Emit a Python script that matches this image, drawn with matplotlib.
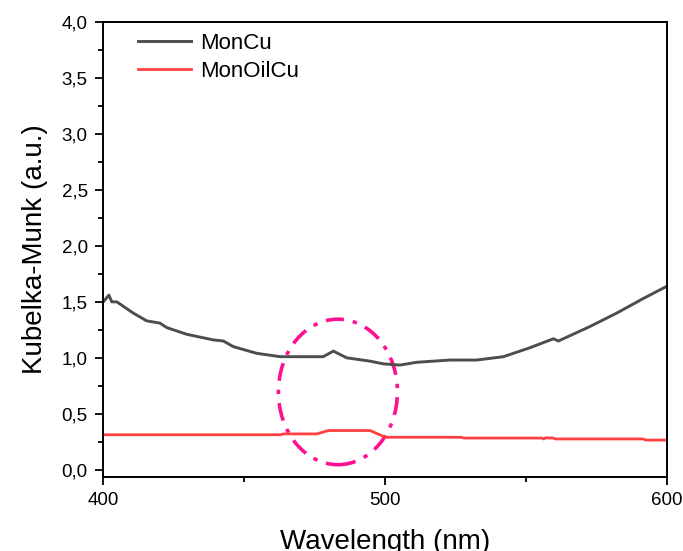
import numpy as np
import matplotlib.pyplot as plt
from matplotlib.patches import Ellipse
from matplotlib.ticker import MultipleLocator, FuncFormatter

plt.rcParams['font.family'] = ['Liberation Sans', 'DejaVu Sans']

# Kubelka-Munk spectra
wl_moncu = [400.1, 402.1, 403.1, 404.9, 410.7, 415.5, 420.2, 422.6, 429.7, 439.1,
            442.7, 446.2, 454.5, 462.8, 471.0, 478.1, 481.7, 486.4, 494.7, 499.4,
            505.3, 511.2, 523.0, 532.5, 542.0, 551.4, 559.7, 561.5, 563.2, 572.7,
            582.2, 591.6, 600.0]
km_moncu = [1.50, 1.56, 1.50, 1.50, 1.40, 1.33, 1.31, 1.27, 1.21, 1.16,
            1.15, 1.10, 1.04, 1.01, 1.01, 1.01, 1.06, 1.00, 0.97, 0.946,
            0.935, 0.96, 0.98, 0.98, 1.01, 1.09, 1.17, 1.15, 1.17, 1.28,
            1.40, 1.53, 1.64]

wl_monoilcu = [400.0, 462.8, 464.0, 475.8, 479.9, 494.7, 499.3, 500.6, 527.0, 528.0,
               555.6, 556.2, 557.0, 559.6, 560.5, 591.5, 592.5, 600.0]
km_monoilcu = [0.3125, 0.3125, 0.32, 0.32, 0.35, 0.35, 0.30, 0.29, 0.29, 0.283,
               0.283, 0.275, 0.285, 0.283, 0.275, 0.275, 0.265, 0.265]

fig = plt.figure(figsize=(6.83, 5.51), dpi=100)
ax = fig.add_axes([0.1508, 0.1343, 0.8258, 0.8257])

ax.plot(wl_moncu, km_moncu, color='#4d4d4d', lw=2.1, label='MonCu')
ax.plot(wl_monoilcu, km_monoilcu, color='#ff4040', lw=2.0, label='MonOilCu')

# highlighted region
ell = Ellipse((483.3, 0.695), 42.2, 1.30, fill=False, edgecolor='#ff1090',
              lw=2.6, linestyle=(0, (5, 2.5, 1.2, 2.5)))
ax.add_patch(ell)

ax.set_xlim(400, 600)
ax.set_ylim(-0.065, 4.0)
ax.xaxis.set_major_locator(MultipleLocator(100))
ax.xaxis.set_minor_locator(MultipleLocator(50))
ax.yaxis.set_major_locator(MultipleLocator(0.5))
ax.yaxis.set_minor_locator(MultipleLocator(0.25))
ax.yaxis.set_major_formatter(FuncFormatter(lambda v, p: f'{v:.1f}'.replace('.', ',')))

ax.tick_params(which='major', direction='out', length=6, width=1.3, labelsize=13.5, pad=5)
ax.tick_params(which='minor', direction='out', length=3.5, width=1.3)
for s in ax.spines.values():
    s.set_linewidth(1.4)

ax.set_xlabel('Wavelength (nm)', fontsize=20, labelpad=14)
ax.set_ylabel('Kubelka-Munk (a.u.)', fontsize=20, labelpad=10)

ax.legend(loc='upper left', frameon=False, fontsize=16, handlelength=2.4,
          handletextpad=0.4, labelspacing=0.3, bbox_to_anchor=(0.026, 1.02))

fig.savefig('out.png', dpi=100)
